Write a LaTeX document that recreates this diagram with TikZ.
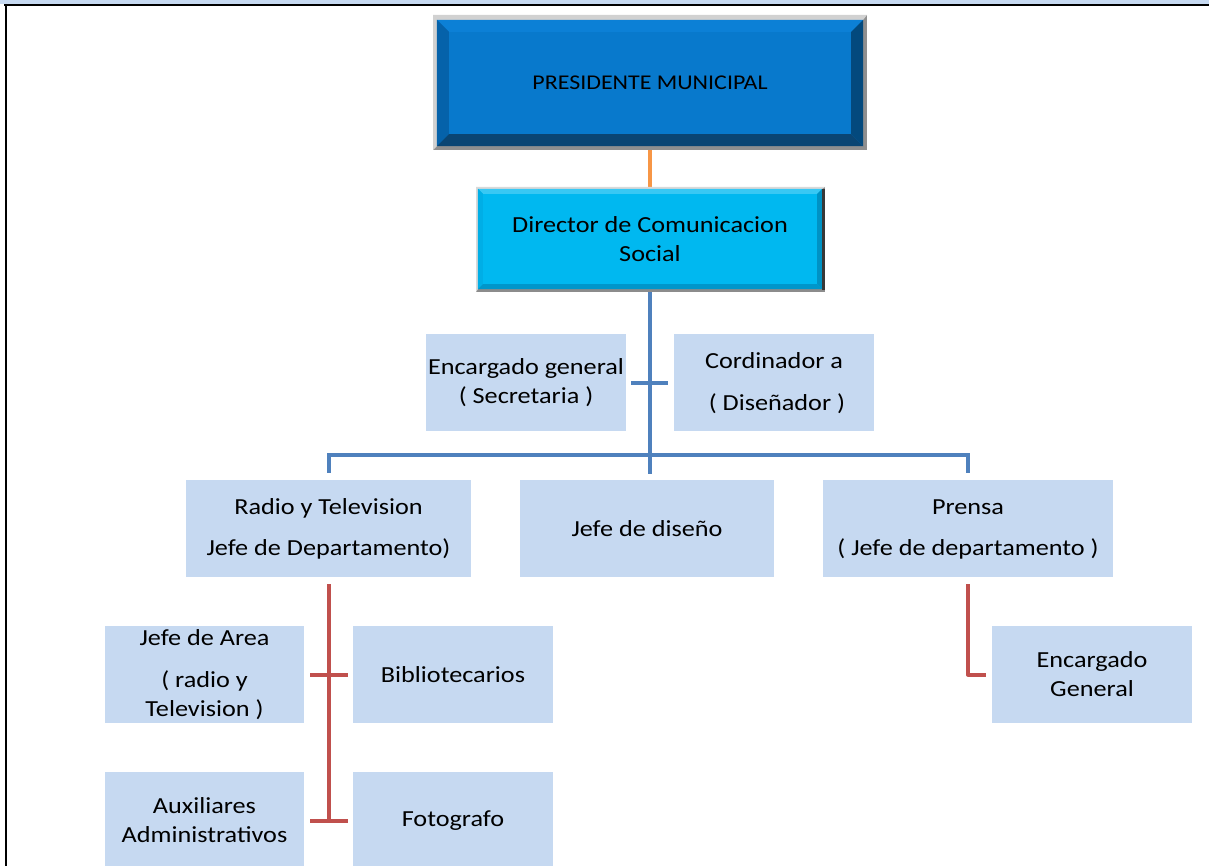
\documentclass[tikz,border=0pt]{standalone}
\usepackage{fontspec}
\setmainfont{Carlito}[FakeStretch=1.14]
\usetikzlibrary{calc}

\definecolor{cellblue}{HTML}{C6D9F1}
\definecolor{linkblue}{HTML}{4F81BD}
\definecolor{linkred}{HTML}{C0504D}
\definecolor{linkorange}{HTML}{F79646}
\definecolor{presface}{HTML}{0879CC}
\definecolor{prestop}{HTML}{0C80D6}
\definecolor{presleft}{HTML}{0562AA}
\definecolor{presright}{HTML}{03497D}
\definecolor{presbottom}{HTML}{0A4573}
\definecolor{dirface}{HTML}{00B8F0}
\definecolor{dirtop}{HTML}{38C8F4}
\definecolor{dirleft}{HTML}{00AEE6}
\definecolor{dirright}{HTML}{0092C4}
\definecolor{dirbottom}{HTML}{0096CA}

% bevel of a box node: #1 node, #2 depth, #3..#6 top/left/bottom/right colours
\newcommand\bevelrim[6]{%
  \fill[#3] (#1.north west) -- (#1.north east) -- ($(#1.north east)+(-#2,#2)$) -- ($(#1.north west)+(#2,#2)$) -- cycle;
  \fill[#4] (#1.north west) -- ($(#1.north west)+(#2,#2)$) -- ($(#1.south west)+(#2,-#2)$) -- (#1.south west) -- cycle;
  \fill[#5] (#1.south west) -- ($(#1.south west)+(#2,-#2)$) -- ($(#1.south east)+(-#2,-#2)$) -- (#1.south east) -- cycle;
  \fill[#6] (#1.north east) -- (#1.south east) -- ($(#1.south east)+(-#2,-#2)$) -- ($(#1.north east)+(-#2,#2)$) -- cycle;
}

\tikzset{
  txt/.style={font=\fontsize{23}{29}\selectfont, align=center, inner sep=0pt, text=black},
  cell/.style={txt, fill=cellblue, minimum height=97pt},
  link/.style={line width=4pt},
  bluelink/.style={link, draw=linkblue},
  redlink/.style={link, draw=linkred, line join=round},
}

\begin{document}
\begin{tikzpicture}[x=1pt, y=-1pt]
\useasboundingbox (0,0) rectangle (1209,866);

% page frame
\fill[cellblue] (0,0) rectangle (1209,4);
\draw[line width=2.5pt] (4,5) -- (1209,5);
\draw[line width=2.5pt] (6,4) -- (6,866);

% boxes
\node[txt, minimum width=426pt, minimum height=126pt] (pres) at (650,83) {};
\node[txt, minimum width=344pt, minimum height=100pt] (dir) at (650,239) {};
\node[cell, minimum width=200pt] (sec) at (526,382.5) {Encargado general\\( Secretaria )};
\node[cell, minimum width=200pt] (cord) at (774,382.5) {\raisebox{0pt}[17pt][0pt]{}Cordinador a\\[13pt]\ ( Diseñador )};
\node[cell, minimum width=285pt] (radio) at (328.5,528.5) {Radio y Television\\[12pt]Jefe de Departamento)};
\node[cell, minimum width=254pt] (dis) at (647,528.5) {Jefe de diseño};
\node[cell, minimum width=290pt] (prensa) at (968,528.5) {\raisebox{0pt}[17pt][0pt]{}Prensa\\[12pt]( Jefe de departamento )};
\node[cell, minimum width=199pt] (area) at (204.5,674.5) {Jefe de Area\\[13pt]( radio y\\Television )};
\node[cell, minimum width=200pt] (bib) at (453,674.5) {Bibliotecarios};
\node[cell, minimum width=199pt] (aux) at (204.5,820.5) {Auxiliares\\Administrativos};
\node[cell, minimum width=200pt] (foto) at (453,820.5) {Fotografo};
\node[cell, minimum width=200pt] (enc) at (1092,674.5) {Encargado\\General};

% connectors
\draw[link, draw=linkorange] (pres.south) -- (dir.north);
\coordinate (hub) at ($(dir.south)+(0,166)$);
\coordinate (mid) at ($(dir.south |- dis.north)+(0,-6)$);
\draw[bluelink] (dir.south) -- (mid);
\draw[bluelink, line cap=rect] ($(radio.north |- hub)$) -- ($(prensa.north |- hub)$);
\draw[bluelink] ($(radio.north |- hub)+(0,-2)$) -- ($(radio.north)+(0,-7)$);
\draw[bluelink] ($(prensa.north |- hub)+(0,-2)$) -- ($(prensa.north)+(0,-7)$);
\draw[bluelink] ($(sec.east)+(5,0)$) -- ($(cord.west)+(-6,0)$);

\coordinate (redtop) at ($(radio.south)+(0,7)$);
\draw[redlink] (redtop) -- (redtop |- foto.west);
\draw[redlink] ($(area.east)+(6,0)$) -- ($(bib.west)+(-5,0)$);
\draw[redlink] ($(aux.east)+(6,0)$) -- ($(foto.west)+(-5,0)$);
\draw[redlink] ($(prensa.south)+(0,7)$) -- ($(prensa.south |- enc.west)$) -- ($(enc.west)+(-6,0)$);

% president box: shadow, face, bevel, caption
\fill[black!44] (433,15) rectangle (867,150);
\fill[black!18] (433,15) -- (867,15) -- (863,20) -- (437,20) -- (437,146) -- (433,150) -- cycle;
\fill[presface] (pres.north west) rectangle (pres.south east);
\bevelrim{pres}{12}{prestop}{presleft}{presbottom}{presright}
\node[txt, font=\fontsize{21}{25}\selectfont] at (pres.center) {PRESIDENTE MUNICIPAL};

% director box: rim, face, bevel, caption
\fill[black!45] (476,187) rectangle (825,292);
\fill[black!15] (476,187) -- (825,187) -- (822,189) -- (478,189) -- (478,289) -- (476,292) -- cycle;
\fill[dirface] (dir.north west) rectangle (dir.south east);
\bevelrim{dir}{5}{dirtop}{dirleft}{dirbottom}{dirright}
\fill[black!78] (822,189) rectangle (825,290);
\node[txt] at (dir.center) {Director de Comunicacion\\Social};
\end{tikzpicture}
\end{document}
